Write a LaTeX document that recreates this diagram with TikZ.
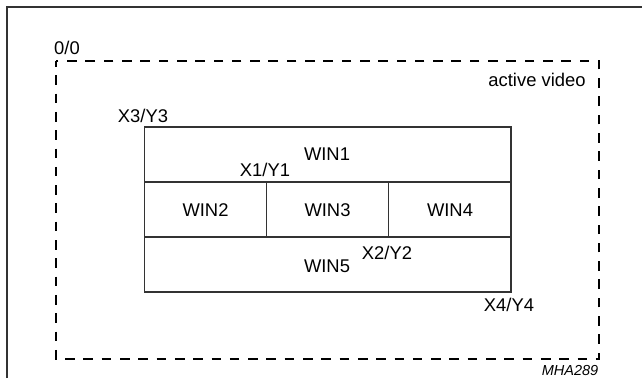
\documentclass[tikz,border=0pt]{standalone}
\usepackage{fontspec}
\setmainfont{Liberation Sans}
\begin{document}
\begin{tikzpicture}[x=1pt,y=-1pt,
  lbl/.style={inner sep=0pt,font=\fontsize{18.4}{22}\selectfont},
  frameline/.style={line width=1.3pt,black!80},
  dashbox/.style={line width=1.2pt,dash pattern=on 9.6pt off 8.7pt,dash phase=4pt},
  winbox/.style={line width=1.1pt,black!80}]
\useasboundingbox (0,0) rectangle (642,378);
% outer frame (top and left)
\coordinate (fl) at (7,378);
\coordinate (fc) at (7,7);
\coordinate (fr) at (642,7);
\draw[frameline] (fl) -- (fc) -- (fr);
% active video dashed area
\coordinate (av1) at (56,61);
\coordinate (av2) at (599,359);
\draw[dashbox] (av1) rectangle (av2);
% window grid
\coordinate (w1) at (144.5,127);
\coordinate (w2) at (511,292);
\coordinate (r1l) at (144.5,182);
\coordinate (r1r) at (511,182);
\coordinate (r2l) at (144.5,237);
\coordinate (r2r) at (511,237);
\coordinate (c1t) at (266.7,182);
\coordinate (c1b) at (266.7,237);
\coordinate (c2t) at (388.7,182);
\coordinate (c2b) at (388.7,237);
\draw[winbox] (w1) rectangle (w2);
\draw[winbox] (r1l) -- (r1r);
\draw[winbox] (r2l) -- (r2r);
\draw[winbox] (c1t) -- (c1b);
\draw[winbox] (c2t) -- (c2b);
% labels
\node[lbl] (l00) at (67,48) {0/0};
\node[lbl] (lav) at (537,80) {active video};
\node[lbl] (lx3) at (143,116) {X3/Y3};
\node[lbl] (win1) at (327,154) {WIN1};
\node[lbl] (lx1) at (265,170) {X1/Y1};
\node[lbl] (win2) at (205.5,210) {WIN2};
\node[lbl] (win3) at (327.5,210) {WIN3};
\node[lbl] (win4) at (450,210) {WIN4};
\node[lbl] (lx2) at (387,253) {X2/Y2};
\node[lbl] (win5) at (327,266) {WIN5};
\node[lbl] (lx4) at (509,305) {X4/Y4};
\node[lbl,font=\fontsize{14.5}{17}\selectfont\itshape] (mha) at (570,371) {MHA289};
\end{tikzpicture}
\end{document}
